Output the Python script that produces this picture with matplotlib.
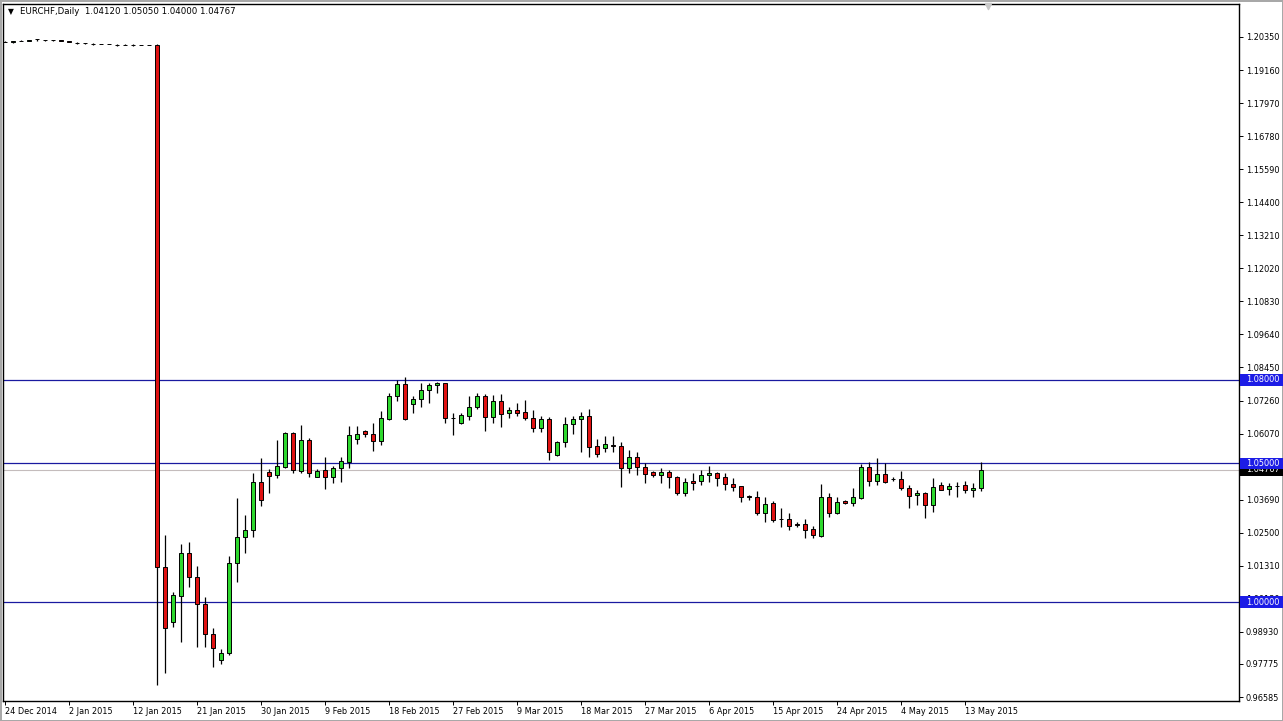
import matplotlib
matplotlib.use("Agg")
import matplotlib.pyplot as plt
from matplotlib.patches import Rectangle
import numpy as np

# ---------------- data (EURCHF daily bars) ----------------
opens = [1.2018, 1.2016, 1.2022, 1.2020, 1.2027, 1.2024, 1.2024, 1.2023, 1.2021, 1.2015,
         1.2012, 1.2011, 1.2009, 1.2009, 1.2006, 1.2006, 1.2006, 1.2006, 1.2006, 1.2006,
         1.0127, 0.9929, 1.0022, 1.0177, 1.0091, 0.9993, 0.9885, 0.9792, 0.9817, 1.0141,
         1.0235, 1.0260, 1.0433, 1.0469, 1.0458, 1.0487, 1.0610, 1.0472, 1.0584, 1.0451,
         1.0476, 1.0451, 1.0483, 1.0505, 1.0588, 1.0616, 1.0605, 1.0580, 1.0659, 1.0742,
         1.0785, 1.0714, 1.0732, 1.0764, 1.0782, 1.0789, 1.0663, 1.0645, 1.0670, 1.0703,
         1.0742, 1.0667, 1.0724, 1.0681, 1.0692, 1.0685, 1.0663, 1.0627, 1.0659, 1.0530,
         1.0577, 1.0641, 1.0659, 1.0670, 1.0562, 1.0555, 1.0566, 1.0562, 1.0483, 1.0523,
         1.0487, 1.0469, 1.0458, 1.0469, 1.0451, 1.0393, 1.0436, 1.0436, 1.0458, 1.0465,
         1.0451, 1.0425, 1.0418, 1.0381, 1.0379, 1.0321, 1.0357, 1.0300, 1.0300, 1.0280,
         1.0280, 1.0264, 1.0238, 1.0379, 1.0321, 1.0364, 1.0357, 1.0375, 1.0487, 1.0436,
         1.0461, 1.0444, 1.0444, 1.0411, 1.0386, 1.0393, 1.0350, 1.0422, 1.0408, 1.0418,
         1.0422, 1.0404, 1.04120]
highs = [1.2020, 1.2021, 1.2024, 1.2025, 1.2028, 1.2025, 1.2025, 1.2024, 1.2022, 1.2016,
         1.2015, 1.2014, 1.2010, 1.2010, 1.2009, 1.2008, 1.2009, 1.2007, 1.2007, 1.2008,
         1.0242, 1.0037, 1.0209, 1.0217, 1.0131, 1.0019, 0.9907, 0.9831, 1.0166, 1.0375,
         1.0314, 1.0465, 1.0519, 1.0479, 1.0584, 1.0613, 1.0613, 1.0638, 1.0591, 1.0479,
         1.0523, 1.0490, 1.0523, 1.0634, 1.0634, 1.0620, 1.0645, 1.0688, 1.0753, 1.0800,
         1.0811, 1.0742, 1.0789, 1.0789, 1.0793, 1.0789, 1.0680, 1.0680, 1.0742, 1.0753,
         1.0750, 1.0746, 1.0750, 1.0703, 1.0717, 1.0728, 1.0692, 1.0670, 1.0667, 1.0580,
         1.0667, 1.0670, 1.0685, 1.0696, 1.0588, 1.0598, 1.0598, 1.0577, 1.0548, 1.0541,
         1.0501, 1.0472, 1.0483, 1.0476, 1.0454, 1.0447, 1.0465, 1.0476, 1.0490, 1.0469,
         1.0465, 1.0447, 1.0418, 1.0386, 1.0400, 1.0379, 1.0364, 1.0339, 1.0321, 1.0289,
         1.0300, 1.0275, 1.0425, 1.0393, 1.0379, 1.0368, 1.0411, 1.0498, 1.0505, 1.0519,
         1.0501, 1.0451, 1.0472, 1.0422, 1.0404, 1.0397, 1.0447, 1.0433, 1.0429, 1.0433,
         1.0436, 1.0429, 1.05050]
lows = [1.2017, 1.2015, 1.2021, 1.2019, 1.2022, 1.2020, 1.2019, 1.2019, 1.2016, 1.2011,
        1.2010, 1.2006, 1.2008, 1.2008, 1.2004, 1.2005, 1.2004, 1.2005, 1.2005, 0.9702,
        0.9745, 0.9911, 0.9857, 1.0055, 0.9839, 0.9839, 0.9767, 0.9777, 0.9810, 1.0073,
        1.0177, 1.0235, 1.0347, 1.0393, 1.0447, 1.0483, 1.0465, 1.0465, 1.0451, 1.0451,
        1.0408, 1.0429, 1.0433, 1.0483, 1.0570, 1.0595, 1.0544, 1.0566, 1.0656, 1.0724,
        1.0656, 1.0680, 1.0703, 1.0717, 1.0753, 1.0645, 1.0602, 1.0641, 1.0656, 1.0696,
        1.0616, 1.0645, 1.0630, 1.0663, 1.0670, 1.0656, 1.0613, 1.0613, 1.0512, 1.0526,
        1.0559, 1.0605, 1.0541, 1.0523, 1.0523, 1.0541, 1.0541, 1.0415, 1.0465, 1.0458,
        1.0429, 1.0451, 1.0429, 1.0411, 1.0386, 1.0383, 1.0404, 1.0422, 1.0433, 1.0418,
        1.0404, 1.0400, 1.0361, 1.0368, 1.0314, 1.0289, 1.0289, 1.0271, 1.0260, 1.0271,
        1.0231, 1.0231, 1.0235, 1.0307, 1.0318, 1.0354, 1.0347, 1.0372, 1.0418, 1.0422,
        1.0429, 1.0436, 1.0404, 1.0339, 1.0350, 1.0303, 1.0325, 1.0404, 1.0386, 1.0379,
        1.0393, 1.0379, 1.04000]
closes = [1.2018, 1.2020, 1.2022, 1.2024, 1.2027, 1.2024, 1.2023, 1.2022, 1.2017, 1.2014,
          1.2012, 1.2008, 1.2009, 1.2009, 1.2006, 1.2006, 1.2006, 1.2006, 1.2006, 1.0127,
          0.9907, 1.0026, 1.0177, 1.0091, 0.9993, 0.9885, 0.9835, 0.9817, 1.0141, 1.0235,
          1.0260, 1.0433, 1.0368, 1.0454, 1.0490, 1.0610, 1.0476, 1.0584, 1.0465, 1.0472,
          1.0451, 1.0483, 1.0508, 1.0602, 1.0606, 1.0605, 1.0580, 1.0663, 1.0742, 1.0785,
          1.0659, 1.0732, 1.0764, 1.0782, 1.0789, 1.0663, 1.0663, 1.0674, 1.0703, 1.0742,
          1.0667, 1.0724, 1.0677, 1.0692, 1.0681, 1.0663, 1.0627, 1.0659, 1.0541, 1.0577,
          1.0641, 1.0659, 1.0670, 1.0559, 1.0534, 1.0570, 1.0564, 1.0483, 1.0523, 1.0487,
          1.0461, 1.0458, 1.0469, 1.0451, 1.0393, 1.0433, 1.0429, 1.0458, 1.0465, 1.0447,
          1.0425, 1.0415, 1.0379, 1.0379, 1.0321, 1.0354, 1.0296, 1.0298, 1.0275, 1.0278,
          1.0260, 1.0242, 1.0379, 1.0321, 1.0361, 1.0357, 1.0379, 1.0487, 1.0436, 1.0461,
          1.0433, 1.0443, 1.0411, 1.0383, 1.0393, 1.0350, 1.0415, 1.0404, 1.0418, 1.0420,
          1.0404, 1.0411, 1.04767]

date_tick_bars = [0, 8, 16, 24, 32, 40, 48, 56, 64, 72, 80, 88, 96, 104, 112, 120]
date_tick_labels = ["24 Dec 2014", "2 Jan 2015", "12 Jan 2015", "21 Jan 2015", "30 Jan 2015",
                    "9 Feb 2015", "18 Feb 2015", "27 Feb 2015", "9 Mar 2015", "18 Mar 2015",
                    "27 Mar 2015", "6 Apr 2015", "15 Apr 2015", "24 Apr 2015", "4 May 2015",
                    "13 May 2015"]
price_ticks = [1.20350, 1.19160, 1.17970, 1.16780, 1.15590, 1.14400, 1.13210, 1.12020,
               1.10830, 1.09640, 1.08450, 1.07260, 1.06070, 1.04880, 1.03690, 1.02500,
               1.01310, 1.00130, 0.98930, 0.97775, 0.96585]
level_lines = [1.08000, 1.05000, 1.00000]
last_price = 1.04767
header = "EURCHF,Daily  1.04120 1.05050 1.04000 1.04767"

# ---------------- figure ----------------
W, H = 1283, 721
fig = plt.figure(figsize=(W / 100, H / 100), dpi=100, facecolor="white",
                 edgecolor="#a8a8a8", linewidth=2)
ax_l, ax_r, ax_b, ax_t = 3, 1239, 701, 4
ax = fig.add_axes([ax_l / W, 1 - ax_b / H, (ax_r - ax_l) / W, (ax_b - ax_t) / H])

FS = 5.9
n = len(opens)
x = np.arange(n)
o = np.array(opens); c = np.array(closes); hi = np.array(highs); lo = np.array(lows)

# level lines + bid line
ax.axhline(last_price, color="#c4bcbc", lw=0.8, zorder=1)
for lv in level_lines:
    ax.axhline(lv, color="#1a1aa0", lw=0.9, zorder=1)

# wicks
ax.vlines(x, lo, hi, color="black", lw=0.9, zorder=2)
# bodies
colors = np.where(c > o, "#2ed82e", np.where(c < o, "#e01212", "black"))
ax.bar(x, np.abs(c - o), bottom=np.minimum(o, c), width=0.62, color=colors,
       edgecolor="black", linewidth=0.7, zorder=3)

# axis limits (8 px per bar, first bar at x=5 px)
ax.set_xlim((ax_l - 5) / 8, (ax_r - 5) / 8)
ppu = 2777.2
ax.set_ylim(1.20350 - (ax_b - 37) / ppu, 1.20350 + (37 - ax_t) / ppu)

for s in ax.spines.values():
    s.set_color("black"); s.set_linewidth(1.0)

ax.yaxis.tick_right()
ax.set_yticks(price_ticks)
ax.set_yticklabels([f"{v:.5f}" for v in price_ticks])
ax.tick_params(axis="y", length=3, width=0.7, pad=2, labelsize=FS, colors="black")
ax.set_xticks(date_tick_bars)
ax.set_xticklabels(date_tick_labels, ha="left")
ax.tick_params(axis="x", length=3, width=0.7, pad=1.5, labelsize=FS, colors="black")

# price labels on right scale
tr = ax.get_yaxis_transform()
axw = ax_r - ax_l
bx0 = 1.0 + 0.5 / axw
bw = 43 / axw
bh = 11.5 / ppu
def price_box(val, fc, z):
    ax.add_patch(Rectangle((bx0, val - bh / 2), bw, bh, transform=tr, facecolor=fc,
                           edgecolor="none", clip_on=False, zorder=z))
    ax.text(1.0 + 7 / axw, val, f"{val:.5f}", transform=tr, ha="left", va="center",
            color="white", fontsize=FS, clip_on=False, zorder=z + 0.5)

price_box(last_price, "black", 5)
price_box(level_lines[0], "#1c1ce6", 7)
price_box(level_lines[1], "#1c1ce6", 7)
price_box(level_lines[2], "#1c1ce6", 7)

# chart shift marker
ax.scatter([122.9], [0.997], marker="v", s=20, color="#c8c8c8", transform=ax.get_xaxis_transform(),
           clip_on=False, zorder=4)

# header
fig.text(8 / W, 1 - 12 / H, "\u25bc", fontsize=5.5, va="center", ha="left", color="black")
fig.text(20 / W, 1 - 12 / H, header, fontsize=6.2, va="center", ha="left", color="black")

fig.savefig("out.png", dpi=100, facecolor="white", edgecolor=fig.get_edgecolor())
